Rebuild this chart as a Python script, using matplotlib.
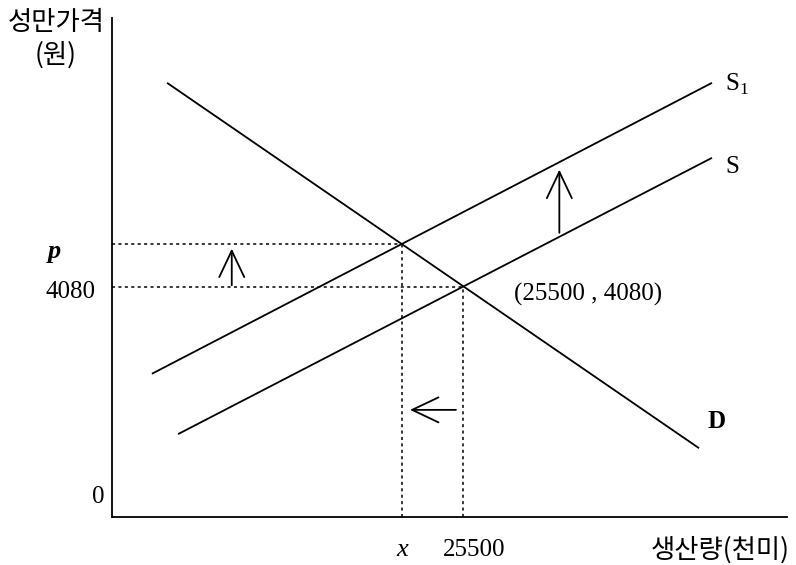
import matplotlib
matplotlib.use("Agg")
import matplotlib.pyplot as plt

# ---- data (quantity in 천미, price in 원) ----
eq_q = 25500
eq_p = 4080
new_q = 21060          # x
new_p = 4840           # p

demand_q = [4000, 42650]
demand_p = [7700, 1220]
supply_q = [4800, 43590]
supply_p = [1470, 6370]
supply1_q = [2900, 43590]
supply1_p = [2540, 7700]

x_max = 49040
y_max = 8850

W, H = 796, 565
KR = ["Noto Sans CJK KR", "DejaVu Sans"]
SERIF = "Liberation Serif"


def px(x, y):
    return x / W, 1 - y / H


fig = plt.figure(figsize=(W / 100, H / 100), dpi=100)
ax = fig.add_axes([112 / W, 48 / H, 675 / W, 499 / H])
ax.set_xlim(0, x_max)
ax.set_ylim(0, y_max)
for side in ["top", "right"]:
    ax.spines[side].set_visible(False)
for side in ["left", "bottom"]:
    ax.spines[side].set_linewidth(1.3)
ax.set_xticks([])
ax.set_yticks([])

lw = 1.3
ax.plot(demand_q, demand_p, color="black", lw=lw, solid_capstyle="butt")
ax.plot(supply_q, supply_p, color="black", lw=lw, solid_capstyle="butt")
ax.plot(supply1_q, supply1_p, color="black", lw=lw, solid_capstyle="butt")

# dotted guide lines
dot = dict(color="black", lw=1.1, ls=(0, (2, 2.2)))
ax.plot([0, eq_q], [eq_p, eq_p], **dot)
ax.plot([eq_q, eq_q], [0, eq_p], **dot)
ax.plot([0, new_q], [new_p, new_p], **dot)
ax.plot([new_q, new_q], [0, new_p], **dot)

# shift arrows
arrow = dict(arrowstyle="->,head_length=1.9,head_width=0.9", mutation_scale=10,
             lw=1.3, color="black", shrinkA=0, shrinkB=0)
ax.annotate("", xy=(8700, 4760), xytext=(8700, 4110), arrowprops=arrow)
ax.annotate("", xy=(32500, 6160), xytext=(32500, 5040), arrowprops=arrow)
ax.annotate("", xy=(21650, 1900), xytext=(24990, 1900), arrowprops=arrow)

# labels
fig.text(*px(56, 22), "성만가격", family=KR, fontsize=19, weight="medium",
         ha="center", va="center")
fig.text(*px(56, 55), "(원)", family=KR, fontsize=19, weight="medium",
         ha="center", va="center")
fig.text(*px(54, 252), "p", family=SERIF, style="italic", weight="bold",
         fontsize=19, ha="center", va="center")
fig.text(*px(96, 292), "4080", family=SERIF, fontsize=18, ha="right", va="center")
fig.text(*px(98, 497), "0", family=SERIF, fontsize=18, ha="center", va="center")
fig.text(*px(402, 550), "x", family=SERIF, style="italic", fontsize=19,
         ha="center", va="center")
fig.text(*px(474, 550), "25500", family=SERIF, fontsize=18, ha="center", va="center")
fig.text(*px(720, 550), "생산량(천미)", family=KR, fontsize=19, weight="medium",
         ha="center", va="center")
fig.text(*px(717, 422), "D", family=SERIF, weight="bold", fontsize=18,
         ha="center", va="center")
fig.text(*px(725, 84), "S$_{\\mathregular{1}}$", family=SERIF, fontsize=18,
         ha="left", va="center")
fig.text(*px(725, 167), "S", family=SERIF, fontsize=18, ha="left", va="center")
fig.text(*px(588, 294), "(25500 , 4080)", family=SERIF, fontsize=18,
         ha="center", va="center")

fig.savefig("out.png", dpi=100)
